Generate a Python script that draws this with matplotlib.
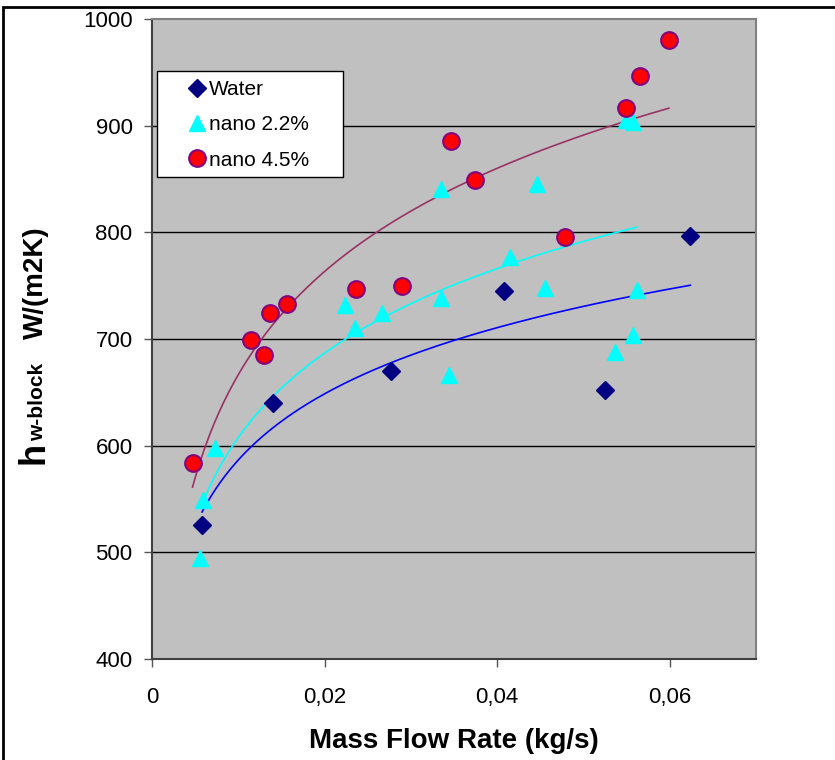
import numpy as np
import matplotlib
matplotlib.use('Agg')
from matplotlib import pyplot as plt
from matplotlib.patches import Rectangle
from matplotlib.ticker import FuncFormatter

plt.rcParams['font.family'] = ['Liberation Sans', 'DejaVu Sans']

# data
water_x = [0.0058, 0.0140, 0.0277, 0.0408, 0.0525, 0.0624]
water_y = [526, 640, 670, 745, 652, 797]

nano22_x = [0.0056, 0.0059, 0.0073, 0.0224, 0.0235, 0.0266, 0.0335, 0.0335, 0.0344,
            0.0415, 0.0446, 0.0456, 0.0537, 0.0549, 0.0557, 0.0557, 0.0562]
nano22_y = [495, 549, 598, 732, 710, 724, 841, 738, 666,
            777, 845, 748, 688, 905, 704, 903, 746]

nano45_x = [0.0047, 0.0115, 0.0130, 0.0137, 0.0157, 0.0237, 0.0290, 0.0346, 0.0374,
            0.0479, 0.0549, 0.0565, 0.0599]
nano45_y = [584, 699, 685, 724, 733, 747, 750, 886, 849,
            796, 917, 947, 980]

xticks = [0, 0.02, 0.04, 0.06]
yticks = [400, 500, 600, 700, 800, 900, 1000]

W, H = 835, 760


def log_trend(x, y):
    # excel style logarithmic trendline
    a, b = np.polyfit(np.log(x), y, 1)
    xs = np.linspace(min(x), max(x), 200)
    return xs, a * np.log(xs) + b


fig = plt.figure(figsize=(8.35, 7.6), dpi=100)
ax = fig.add_axes([152 / W, 1 - 659 / H, 604 / W, 640 / H])
ax.set_facecolor('#c0c0c0')

for y in yticks[1:-1]:
    ax.axhline(y, color='black', lw=1.0, zorder=1)

xs, ys = log_trend(water_x, water_y)
ax.plot(xs, ys, color='#0000ff', lw=1.2, zorder=2)
xs, ys = log_trend(nano22_x, nano22_y)
ax.plot(xs, ys, color='#00ffff', lw=1.2, zorder=2)
xs, ys = log_trend(nano45_x, nano45_y)
ax.plot(xs, ys, color='#993366', lw=1.2, zorder=2)

ax.plot(water_x, water_y, 'D', color='#000080', ms=9, ls='none', label='Water', zorder=3)
ax.plot(nano22_x, nano22_y, '^', color='#00ffff', ms=12, ls='none', label='nano 2.2%', zorder=3)
ax.plot(nano45_x, nano45_y, 'o', mfc='#ff0000', mec='#800080', mew=1.5, ms=12,
        ls='none', label='nano 4.5%', zorder=4)

ax.set_xlim(0, 0.07)
ax.set_ylim(400, 1000)
ax.set_xticks(xticks)
ax.set_yticks(yticks)
ax.xaxis.set_major_formatter(FuncFormatter(lambda v, p: '0' if v == 0 else ('%.2f' % v).replace('.', ',')))
ax.tick_params(labelsize=16, length=6, width=1, color='#555555', pad=8)
ax.tick_params(axis='x', pad=14)
for s in ax.spines.values():
    s.set_color('#808080')
    s.set_linewidth(1.5)
ax.spines['left'].set_color('#404040')
ax.spines['bottom'].set_color('#404040')

ax.set_xlabel('Mass Flow Rate (kg/s)', fontsize=20, fontweight='bold', labelpad=14.5)

# y label built from pieces: big h, subscript, unit
kw = dict(rotation=90, rotation_mode='anchor', ha='left', va='baseline', fontweight='bold')
fig.text(43 / W, 1 - 464 / H, 'h', fontsize=26, **kw)
fig.text(43 / W, 1 - 441 / H, 'w-block', fontsize=15, **kw)
fig.text(43 / W, 1 - 339 / H, 'W/(m2K)', fontsize=20, **kw)

# legend box
ax.add_patch(Rectangle(((157 - 152) / 604, 1 - (177 - 19) / 640), 186 / 604, 106 / 640,
                       transform=ax.transAxes, facecolor='white', edgecolor='black',
                       lw=1.0, zorder=4.5))
ax.legend(loc='upper left', bbox_to_anchor=((188.7 - 152) / 604, 1 - (80 - 19) / 640),
          fontsize=15, frameon=False, handletextpad=0.17, borderpad=0, labelspacing=0.78,
          handlelength=0.8, borderaxespad=0)

fig.add_artist(Rectangle((3 / W, -0.05), 1.1, 1.05 - 7 / H, transform=fig.transFigure,
                         fill=False, edgecolor='black', lw=2))

fig.savefig('out.png', dpi=100)
